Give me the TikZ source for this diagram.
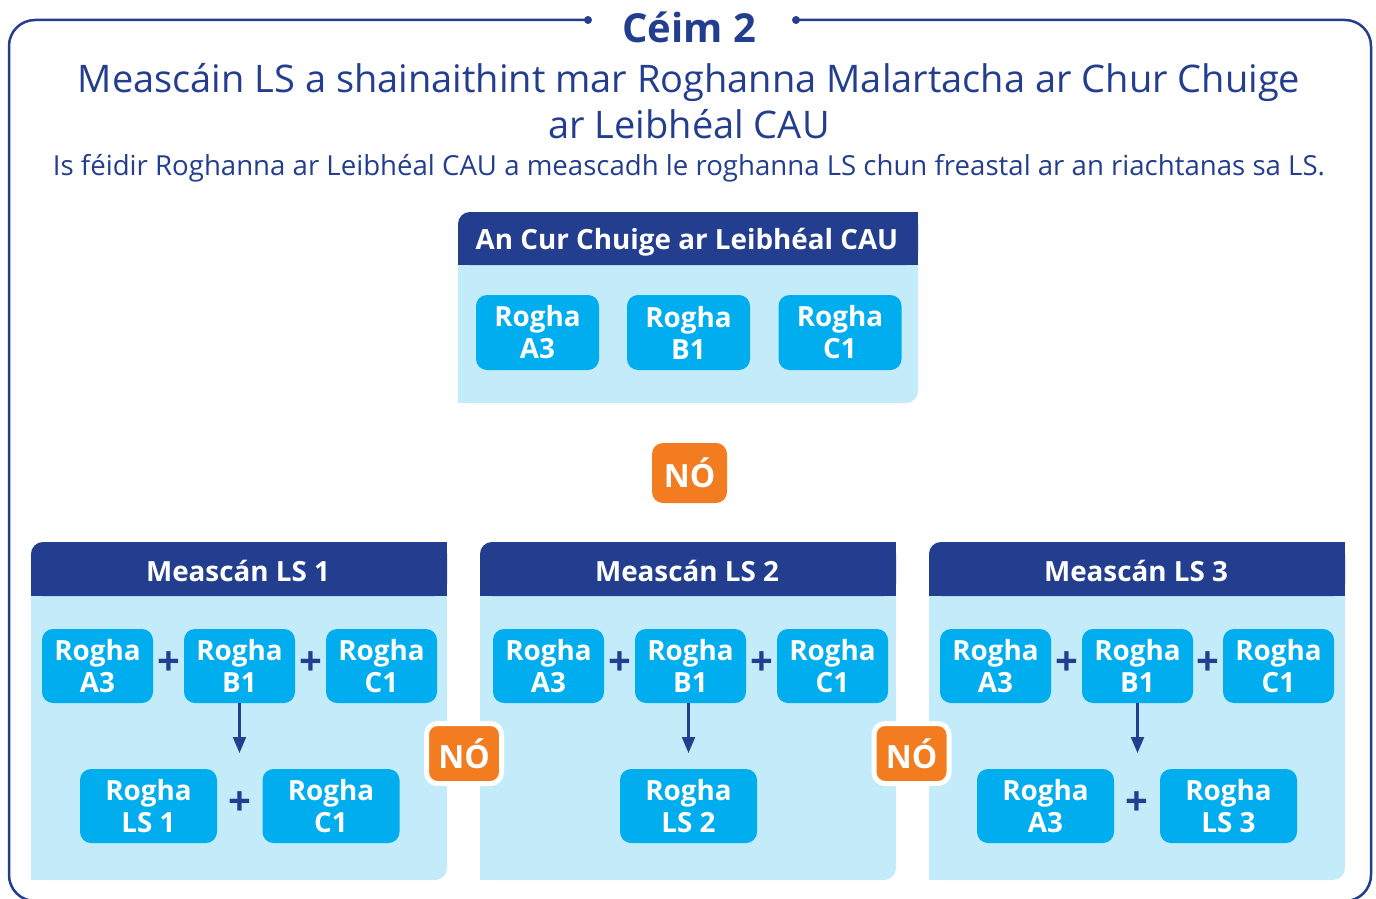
\documentclass[tikz,border=0pt]{standalone}
\usepackage{fontspec}
\setmainfont{Open Sans}
\usetikzlibrary{arrows.meta}
\definecolor{navy}{HTML}{233D8F}
\definecolor{pale}{HTML}{C3EBF9}
\definecolor{cyanbox}{HTML}{00AEEF}
\definecolor{orng}{HTML}{F37C20}
\tikzset{
  rbox/.style={fill=cyanbox, rounded corners=11pt, text=white,
    font=\bfseries\fontsize{27.8}{32}\selectfont, align=center,
    minimum width=111pt, minimum height=74pt, inner sep=0pt},
  wbox/.style={rbox, minimum width=137pt},
  tbox/.style={rbox, minimum width=123pt, minimum height=75pt},
  plussign/.style={text=navy, font=\bfseries\fontsize{40}{40}\selectfont, inner sep=0pt},
  nobadge/.style={fill=orng, rounded corners=11pt, text=white,
    font=\bfseries\fontsize{32}{32}\selectfont, minimum width=75pt, minimum height=60pt, inner sep=0pt},
  nobadgew/.style={nobadge, draw=white, line width=5pt},
  hdr/.style={text=white, font=\bfseries\fontsize{27.8}{32}\selectfont, inner sep=0pt},
  downarrow/.style={navy, line width=2.2pt, -{Triangle[length=16pt,width=13pt]}},
}
\begin{document}
\begin{tikzpicture}[x=1pt,y=-1pt]
\useasboundingbox (0,0) rectangle (1376,899);
% outer frame
\draw[navy, line width=2.5pt, rounded corners=26pt] (588,20) -- (9,20) -- (9,901) -- (1371,901) -- (1371,20) -- (796,20);
\fill[navy] (588,20) circle (4pt);
\fill[navy] (796,20) circle (4pt);
\node[text=navy, font=\bfseries\fontsize{40}{40}\selectfont, inner sep=0pt] (step2) at (689,27) {Céim 2};
\node[text=navy, font=\fontsize{38}{46}\selectfont, align=center, inner sep=0pt] (title) at (689,101)
  {Meascáin LS a shainaithint mar Roghanna Malartacha ar Chur Chuige\\ar Leibhéal CAU};
\node[text=navy, font=\fontsize{27.6}{30}\selectfont, inner sep=0pt] (subtitle) at (689,168)
  {Is féidir Roghanna ar Leibhéal CAU a meascadh le roghanna LS chun freastal ar an riachtanas sa LS.};

% top panel
\fill[pale, rounded corners=12pt] (458,212) rectangle (918,403);
\fill[pale] (458,388) rectangle (473,403);
\fill[navy, rounded corners=12pt] (458,212) rectangle (918,265);
\fill[navy] (903,212) rectangle (918,227);
\fill[navy] (458,250) rectangle (918,265);
\node[hdr] (tophdr) at (687,242) {An Cur Chuige ar Leibhéal CAU};
\node[tbox] (ta) at (537.5,332.5) {Rogha\\A3};
\node[tbox] (tb) at (688.5,332.5) {Rogha\\B1};
\node[tbox] (tc) at (840,332.5) {Rogha\\C1};

\node[nobadge] (no0) at (689.5,473) {NÓ};

% lower panels
\foreach \L in {31,480,929}{
  \fill[pale, rounded corners=12pt] (\L,542) rectangle ({\L+416},880);
  \fill[pale] (\L,865) rectangle ({\L+15},880);
  \fill[navy, rounded corners=12pt] (\L,542) rectangle ({\L+416},596);
  \fill[navy] ({\L+401},542) rectangle ({\L+416},557);
  \fill[navy] (\L,581) rectangle ({\L+416},596);
}
\node[hdr] (h1) at (238,571) {Meascán LS 1};
\node[hdr] (h2) at (687,571) {Meascán LS 2};
\node[hdr] (h3) at (1136,571) {Meascán LS 3};

% panel 1
\node[rbox] (a1) at (97.5,666) {Rogha\\A3};
\node[rbox] (b1) at (239.5,666) {Rogha\\B1};
\node[rbox] (c1) at (381.5,666) {Rogha\\C1};
\node[plussign] (p1a) at (168.5,664) {+};
\node[plussign] (p1b) at (310.5,664) {+};
\coordinate (e1) at (239.5,753);
\draw[downarrow] (b1.south) -- (e1);
\node[wbox] (d1) at (148.5,806) {Rogha\\LS 1};
\node[wbox] (f1) at (331,806) {Rogha\\C1};
\node[plussign] (p1c) at (239.5,804) {+};

% panel 2
\node[rbox] (a2) at (548.5,666) {Rogha\\A3};
\node[rbox] (b2) at (690.5,666) {Rogha\\B1};
\node[rbox] (c2) at (832.5,666) {Rogha\\C1};
\node[plussign] (p2a) at (619.5,664) {+};
\node[plussign] (p2b) at (761.5,664) {+};
\coordinate (e2) at (688.5,753);
\draw[downarrow] (b2.south -| e2) -- (e2);
\node[wbox] (d2) at (688.5,806) {Rogha\\LS 2};

% panel 3
\node[rbox] (a3) at (995.5,666) {Rogha\\A3};
\node[rbox] (b3) at (1137.5,666) {Rogha\\B1};
\node[rbox] (c3) at (1278.5,666) {Rogha\\C1};
\node[plussign] (p3a) at (1066.5,664) {+};
\node[plussign] (p3b) at (1208,664) {+};
\coordinate (e3) at (1137.5,753);
\draw[downarrow] (b3.south) -- (e3);
\node[wbox] (d3) at (1045.5,806) {Rogha\\A3};
\node[wbox] (f3) at (1228.5,806) {Rogha\\LS 3};
\node[plussign] (p3c) at (1137,804) {+};

% NÓ badges between panels
\node[nobadgew] (no1) at (464,753.5) {NÓ};
\node[nobadgew] (no2) at (911.5,753.5) {NÓ};
\end{tikzpicture}
\end{document}
